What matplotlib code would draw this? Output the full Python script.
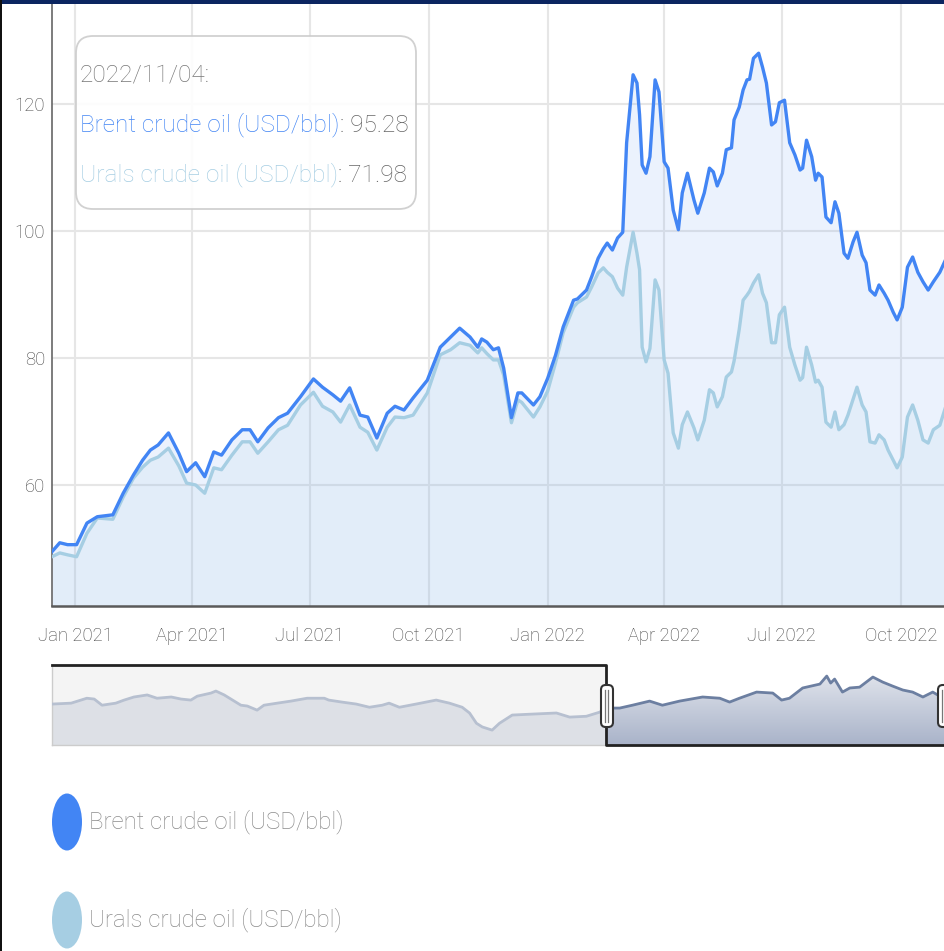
# Brent vs Urals crude oil price chart with navigator strip

import matplotlib
matplotlib.use("Agg")
import matplotlib.pyplot as plt
import matplotlib.dates as mdates
from matplotlib.patches import FancyBboxPatch, Ellipse, Rectangle
from matplotlib.colors import LinearSegmentedColormap
import numpy as np
import pandas as pd

plt.rcParams['font.family'] = ['Roboto', 'DejaVu Sans']
plt.rcParams['font.weight'] = 'light'

# main chart data (USD/bbl)
dates = ["2020-12-14", "2020-12-20", "2020-12-26", "2021-01-02", "2021-01-10", "2021-01-18", "2021-01-30", "2021-02-07", "2021-02-15", "2021-02-22",
         "2021-02-28", "2021-03-06", "2021-03-14", "2021-03-22", "2021-03-28", "2021-04-04", "2021-04-11", "2021-04-18", "2021-04-24", "2021-05-02",
         "2021-05-10", "2021-05-16", "2021-05-22", "2021-05-30", "2021-06-07", "2021-06-14", "2021-06-24", "2021-07-04", "2021-07-11", "2021-07-19",
         "2021-07-25", "2021-08-01", "2021-08-09", "2021-08-15", "2021-08-22", "2021-08-30", "2021-09-05", "2021-09-12", "2021-09-19", "2021-09-30",
         "2021-10-10", "2021-10-18", "2021-10-25", "2021-11-02", "2021-11-08", "2021-11-11", "2021-11-15", "2021-11-20", "2021-11-24", "2021-11-28",
         "2021-12-04", "2021-12-09", "2021-12-12", "2021-12-21", "2021-12-26", "2022-01-01", "2022-01-07", "2022-01-13", "2022-01-21", "2022-01-24",
         "2022-01-31", "2022-02-04", "2022-02-09", "2022-02-13", "2022-02-16", "2022-02-20", "2022-02-24", "2022-02-28", "2022-03-03", "2022-03-08",
         "2022-03-11", "2022-03-13", "2022-03-15", "2022-03-18", "2022-03-21", "2022-03-25", "2022-03-28", "2022-04-01", "2022-04-04", "2022-04-08",
         "2022-04-12", "2022-04-15", "2022-04-19", "2022-04-24", "2022-04-27", "2022-05-02", "2022-05-06", "2022-05-09", "2022-05-12", "2022-05-16",
         "2022-05-19", "2022-05-23", "2022-05-25", "2022-05-29", "2022-06-01", "2022-06-04", "2022-06-06", "2022-06-09", "2022-06-13", "2022-06-16",
         "2022-06-19", "2022-06-23", "2022-06-26", "2022-06-29", "2022-07-03", "2022-07-07", "2022-07-11", "2022-07-15", "2022-07-17", "2022-07-20",
         "2022-07-24", "2022-07-27", "2022-07-29", "2022-08-01", "2022-08-04", "2022-08-08", "2022-08-11", "2022-08-14", "2022-08-18", "2022-08-21",
         "2022-08-25", "2022-08-28", "2022-09-01", "2022-09-04", "2022-09-07", "2022-09-11", "2022-09-14", "2022-09-18", "2022-09-21", "2022-09-25",
         "2022-09-28", "2022-10-02", "2022-10-06", "2022-10-10", "2022-10-14", "2022-10-18", "2022-10-22", "2022-10-26", "2022-10-31", "2022-11-04"]

brent = [49.5, 50.9, 50.6, 50.6, 54.0, 55.0, 55.3, 58.7, 61.6, 63.9,
         65.5, 66.3, 68.2, 65.0, 62.1, 63.5, 61.3, 65.2, 64.7, 67.1,
         68.7, 68.7, 66.8, 69.0, 70.6, 71.3, 73.9, 76.7, 75.4, 74.2,
         73.2, 75.3, 71.0, 70.7, 67.4, 71.3, 72.4, 71.8, 73.7, 76.5,
         81.7, 83.3, 84.7, 83.3, 81.7, 83.0, 82.5, 81.3, 81.6, 78.4,
         70.6, 74.5, 74.5, 72.6, 73.9, 76.8, 80.4, 84.9, 89.1, 89.3,
         90.7, 92.8, 95.7, 97.2, 98.1, 97.0, 98.9, 99.8, 113.9, 124.6,
         123.3, 118.3, 110.4, 109.1, 111.7, 123.8, 121.9, 110.9, 109.9, 103.3,
         100.2, 106.0, 109.1, 104.9, 102.8, 106.0, 109.9, 109.3, 107.1, 109.1,
         112.8, 113.1, 117.5, 119.5, 122.2, 123.8, 123.9, 127.2, 128.0, 125.8,
         123.3, 116.7, 117.2, 120.2, 120.6, 113.9, 112.0, 109.6, 109.9, 114.3,
         111.7, 108.0, 109.1, 108.5, 102.2, 101.3, 104.6, 102.8, 96.5, 95.7,
         98.3, 99.8, 96.2, 95.0, 90.7, 89.9, 91.5, 90.2, 89.1, 87.2,
         86.0, 88.0, 94.3, 95.9, 93.5, 92.0, 90.7, 92.0, 93.5, 95.28]

urals = [48.7, 49.3, 49.0, 48.7, 52.4, 54.8, 54.6, 58.1, 61.1, 62.8,
         63.9, 64.4, 65.8, 63.0, 60.3, 60.0, 58.7, 62.7, 62.4, 64.7,
         66.8, 66.8, 65.0, 66.8, 68.7, 69.4, 72.6, 74.6, 72.4, 71.5,
         69.9, 72.6, 69.1, 68.3, 65.5, 69.1, 70.7, 70.6, 71.0, 74.5,
         80.5, 81.3, 82.4, 82.0, 80.8, 81.6, 80.7, 79.7, 79.7, 77.3,
         69.8, 73.4, 73.0, 70.7, 72.3, 74.8, 79.2, 84.0, 88.0, 88.7,
         89.6, 91.2, 93.4, 94.2, 93.5, 92.8, 91.0, 89.9, 94.3, 99.8,
         96.5, 93.9, 81.7, 79.4, 81.5, 92.3, 90.7, 79.7, 77.6, 68.2,
         65.8, 69.5, 71.5, 69.0, 67.1, 70.2, 75.0, 74.5, 72.3, 73.9,
         77.0, 77.8, 79.5, 84.5, 89.1, 89.9, 90.5, 91.8, 93.1, 90.2,
         88.7, 82.4, 82.4, 86.8, 88.0, 81.7, 78.9, 76.5, 76.9, 81.7,
         78.9, 76.2, 76.5, 75.4, 69.9, 69.1, 71.5, 68.7, 69.5, 71.0,
         73.5, 75.4, 72.6, 71.5, 66.8, 66.6, 67.9, 67.1, 65.5, 63.9,
         62.7, 64.4, 70.7, 72.6, 70.2, 67.1, 66.6, 68.7, 69.4, 71.98]

# navigator strip data (longer history)
nav_dates = ["2017-11-10", "2017-12-19", "2018-01-20", "2018-02-04", "2018-02-20", "2018-03-20", "2018-04-06", "2018-04-26", "2018-05-23", "2018-06-12",
             "2018-07-11", "2018-07-31", "2018-08-20", "2018-09-02", "2018-09-30", "2018-10-10", "2018-10-27", "2018-11-30", "2018-12-13", "2019-01-02",
             "2019-01-16", "2019-02-12", "2019-03-12", "2019-04-14", "2019-05-19", "2019-05-28", "2019-06-24", "2019-07-23", "2019-08-19", "2019-09-14",
             "2019-09-28", "2019-10-19", "2019-11-22", "2020-01-02", "2020-01-29", "2020-02-24", "2020-03-10", "2020-03-24", "2020-04-05", "2020-04-25",
             "2020-05-10", "2020-06-05", "2020-07-10", "2020-09-03", "2020-09-30", "2020-11-03", "2020-11-30", "2020-12-14", "2021-01-10", "2021-02-05",
             "2021-03-12", "2021-04-07", "2021-05-12", "2021-06-28", "2021-08-02", "2021-08-22", "2021-09-11", "2021-10-16", "2021-11-18", "2021-12-06",
             "2021-12-22", "2022-01-18", "2022-02-22", "2022-03-08", "2022-03-16", "2022-03-24", "2022-04-09", "2022-04-24", "2022-05-14", "2022-06-10",
             "2022-06-30", "2022-07-20", "2022-08-10", "2022-08-30", "2022-09-20", "2022-10-10", "2022-10-20", "2022-11-04"]
nav_vals = [59.8, 62, 74, 72, 57, 62, 69.5, 77, 82, 74,
            77, 72, 69.5, 79, 86.6, 91.5, 82, 57, 55, 45,
            57, 62, 67, 74, 74, 69.5, 64.6, 59.8, 52, 57,
            62, 52, 59.8, 69.5, 62, 52, 38, 13, 4, -3.7,
            13, 33, 35, 38, 28, 30, 40, 50, 50, 57,
            67, 57, 67, 77, 74, 64.6, 74, 89, 86.6, 69.5,
            74, 99, 108.5, 128, 111, 120.7, 89, 99, 101, 125.6,
            113.4, 103.7, 94, 89, 77, 89, 82, 88]

tooltip_date = "2022/11/04:"
brent_name = "Brent crude oil (USD/bbl)"
urals_name = "Urals crude oil (USD/bbl)"
brent_color = "#4285f4"
urals_color = "#a6cee3"

W, H = 945, 951

def fx(px):
    return px / W

def fy(py):
    return 1 - py / H

d = pd.to_datetime(dates)
nd = pd.to_datetime(nav_dates)
nav_v = np.array(nav_vals)

fig = plt.figure(figsize=(W / 100, H / 100), dpi=100)

# ---- main chart
ax = fig.add_axes([fx(52), fy(606), fx(945) - fx(52), fy(4) - fy(606)])
ax.fill_between(d, brent, 0, color=brent_color, alpha=0.1, lw=0)
ax.fill_between(d, urals, 0, color=urals_color, alpha=0.12, lw=0)
ax.plot(d, urals, color=urals_color, lw=2.4, solid_joinstyle='round', zorder=3)
ax.plot(d, brent, color=brent_color, lw=2.4, solid_joinstyle='round', zorder=4)

ax.set_xlim(pd.Timestamp("2020-12-14"), pd.Timestamp("2022-11-04"))
ax.set_ylim(40.94, 135.75)
ax.set_yticks([60, 80, 100, 120])
ax.xaxis.set_major_locator(mdates.MonthLocator(bymonth=[1, 4, 7, 10]))
ax.xaxis.set_major_formatter(mdates.DateFormatter('%b %Y'))
ax.grid(True, color='#e6e6e6', lw=1.5)
ax.set_axisbelow(True)
ax.tick_params(length=0, labelsize=13.3, labelcolor='#444444')
ax.tick_params(axis='x', pad=15)
ax.tick_params(axis='y', pad=5)
for s in ['top', 'right']:
    ax.spines[s].set_visible(False)
ax.spines['left'].set_color('#666666')
ax.spines['left'].set_linewidth(1.2)
ax.spines['bottom'].set_color('#5a5a5a')
ax.spines['bottom'].set_linewidth(1.8)

# tooltip box, kept inside the main axes so the texts stay on top of it
box = FancyBboxPatch((fx(76), fy(209)), fx(416) - fx(76), fy(36) - fy(209),
                     boxstyle="round,pad=0,rounding_size=0.018",
                     transform=fig.transFigure, facecolor='white', alpha=0.9,
                     edgecolor='#cccccc', lw=1.3, zorder=10, clip_on=False)
ax.add_patch(box)
tip = dict(fontsize=17.6, va='center', zorder=11, transform=fig.transFigure)
ax.text(fx(80), fy(75), tooltip_date, color='#777777', **tip)
t1 = ax.text(fx(80), fy(125), brent_name, color=brent_color, **tip)
t2 = ax.text(fx(80), fy(175), urals_name, color=urals_color, **tip)
ax.annotate(f": {brent[-1]:.2f}", xy=(1, 0.5), xycoords=t1, va='center', ha='left',
            color='#666666', fontsize=17.6, annotation_clip=False, zorder=11)
ax.annotate(f": {urals[-1]:.2f}", xy=(1, 0.5), xycoords=t2, va='center', ha='left',
            color='#666666', fontsize=17.6, annotation_clip=False, zorder=11)

# ---- navigator
nav = fig.add_axes([fx(52), fy(745), fx(945) - fx(52), fy(665) - fy(745)])
sel = pd.Timestamp("2020-12-14")
nx0, nx1 = pd.Timestamp("2017-11-10"), pd.Timestamp("2022-11-04")
ymin, ymax = -40, 155
nav.axvspan(nx0, sel, color='#f4f4f4', lw=0, zorder=0)

left = nd <= sel
right = nd >= sel
nav.fill_between(nd[left], nav_v[left], ymin, color='#dde0e6', lw=0, zorder=1)
nav.plot(nd[left], nav_v[left], color='#b7c0d0', lw=2, zorder=3)

poly = nav.fill_between(nd[right], nav_v[right], ymin, color='none', lw=0)
cmap = LinearSegmentedColormap.from_list('navgrad', ['#a9b3c9', '#dfe3eb'])
grad = np.linspace(0, 1, 256).reshape(-1, 1)
im = nav.imshow(grad, extent=[mdates.date2num(sel), mdates.date2num(nx1), ymin, 130],
                origin='lower', cmap=cmap, aspect='auto', zorder=1)
im.set_clip_path(poly.get_paths()[0], transform=nav.transData)
nav.plot(nd[right], nav_v[right], color='#6c7fa1', lw=2, zorder=3)

nav.set_xlim(nx0, nx1)
nav.set_ylim(ymin, ymax)
nav.axis('off')
xt = nav.get_xaxis_transform()
nav.plot([nx0, nx0], [0, 1], color='#cccccc', lw=1, transform=xt, clip_on=False)
nav.plot([nx0, sel], [0, 0], color='#cccccc', lw=1, transform=xt, clip_on=False)
nav.plot([nx0, sel, sel, nx1], [1, 1, 0, 0], color='#222222', lw=2, transform=xt,
         clip_on=False, zorder=5)

# navigator handles
for hx in [607, 944]:
    hb = FancyBboxPatch((fx(hx - 6), fy(727)), fx(12), fy(685) - fy(727),
                        boxstyle="round,pad=0,rounding_size=0.005",
                        transform=fig.transFigure, facecolor='white',
                        edgecolor='#333333', lw=1.5, zorder=12)
    fig.add_artist(hb)
    for off in [-1.5, 1.5]:
        fig.add_artist(plt.Line2D([fx(hx + off), fx(hx + off)], [fy(722), fy(690)],
                                  transform=fig.transFigure, color='#777777', lw=0.9, zorder=13))

# ---- legend
for name, col, py in [(brent_name, brent_color, 822), (urals_name, urals_color, 920)]:
    fig.add_artist(Ellipse((fx(67), fy(py)), fx(30), 57 / H, transform=fig.transFigure,
                           facecolor=col, edgecolor='none'))
    fig.text(fx(89), fy(py), name, color='#8c8c8c', fontsize=17.3, va='center')

# ---- page frame
fig.add_artist(Rectangle((0, fy(4)), 1, 4 / H, transform=fig.transFigure,
                         facecolor='#0b2560', edgecolor='none', zorder=20))
fig.add_artist(Rectangle((0, 0), 2 / W, 1, transform=fig.transFigure,
                         facecolor='#111111', edgecolor='none', zorder=20))

fig.savefig("out.png", dpi=100)
